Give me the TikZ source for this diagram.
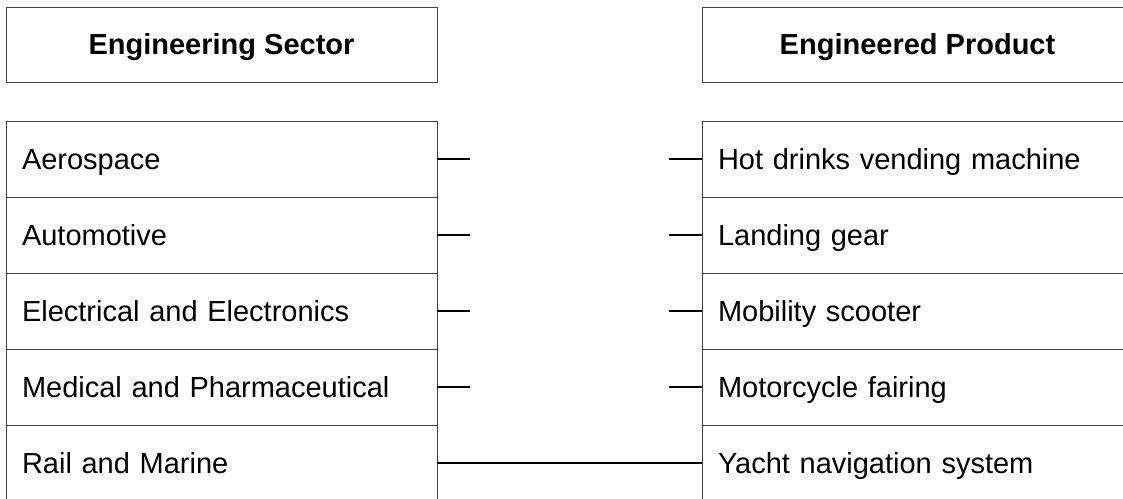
\documentclass[tikz,border=0pt]{standalone}
\usepackage{fontspec}
\setmainfont{Liberation Sans}
\usetikzlibrary{positioning}
\tikzset{
  headbox/.style={rectangle,draw=black!75,line width=0.5pt,outer sep=0pt,minimum width=215.5pt,minimum height=37.5pt,text height=10.4pt,text depth=0pt,font=\fontsize{14.5}{17}\selectfont\bfseries},
  cellbox/.style={rectangle,draw=black!75,line width=0.5pt,outer sep=0pt,minimum height=38pt,text width=199.5pt,text height=10.4pt,text depth=0pt,inner xsep=8pt,align=left,font=\fontsize{14.5}{17}\selectfont},
  stub/.style={line width=0.8pt}
}

\begin{document}
\begin{tikzpicture}[x=0.5pt,y=-0.5pt]
  \useasboundingbox (0,0) rectangle (1123,498);
  \clip (0,0) rectangle (1123,498);

  \node[headbox] (secthead) at (221.5,44.5) {Engineering Sector};
  \node[headbox] (prodhead) at (917.5,44.5) {Engineered Product};

  \node[cellbox] (s1) at (221.5,159) {Aerospace};
  \node[cellbox,below=0pt of s1] (s2) {Automotive};
  \node[cellbox,below=0pt of s2] (s3) {Electrical and Electronics};
  \node[cellbox,below=0pt of s3] (s4) {Medical and Pharmaceutical};
  \node[cellbox,below=0pt of s4] (s5) {Rail and Marine};

  \node[cellbox] (p1) at (917.5,159) {Hot drinks vending machine};
  \node[cellbox,below=0pt of p1] (p2) {Landing gear};
  \node[cellbox,below=0pt of p2] (p3) {Mobility scooter};
  \node[cellbox,below=0pt of p3] (p4) {Motorcycle fairing};
  \node[cellbox,below=0pt of p4] (p5) {Yacht navigation system};

  % short stubs to join up
  \foreach \i in {1,...,4}{
    \coordinate (sx\i) at ([xshift=16.5pt]s\i.east);
    \coordinate (px\i) at ([xshift=-16.5pt]p\i.west);
    \draw[stub] (s\i.east) -- (sx\i);
    \draw[stub] (px\i) -- (p\i.west);
  }
  \draw[stub] (s5.east) -- (p5.west);
\end{tikzpicture}
\end{document}
